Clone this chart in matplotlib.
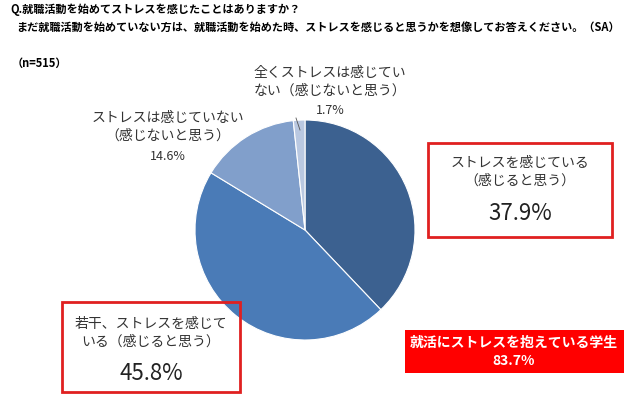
import matplotlib.pyplot as plt
from matplotlib.patches import Rectangle

plt.rcParams["font.family"] = ["Noto Sans CJK JP", "DejaVu Sans"]

labels = ["ストレスを感じている\n（感じると思う）", "若干、ストレスを感じて\nいる（感じると思う）",
          "ストレスは感じていない\n（感じないと思う）", "全くストレスは感じてい\nない（感じないと思う）"]
values = [37.9, 45.8, 14.6, 1.7]
colors = ["#3c6190", "#4a7bb7", "#819fcb", "#b9c8e1"]

W, H = 640, 404
fig = plt.figure(figsize=(6.4, 4.04), dpi=100)


def fx(x):
    return x / W


def fy(y):
    return 1 - y / H


ax = fig.add_axes([fx(305 - 110), fy(230 + 110), 220 / W, 220 / H])
ax.pie(values, colors=colors, startangle=90, counterclock=False,
       wedgeprops=dict(edgecolor="white", linewidth=0.8))
ax.set_aspect("auto")
ax.set_xlim(-1, 1)
ax.set_ylim(-1, 1)

fig.text(fx(10), fy(10), "Q.就職活動を始めてストレスを感じたことはありますか？", fontsize=8, weight="bold", va="center")
fig.text(fx(16), fy(27), "まだ就職活動を始めていない方は、就職活動を始めた時、ストレスを感じると思うかを想像してお答えください。（SA）",
         fontsize=8, weight="bold", va="center")
fig.text(fx(12), fy(63), "（n=515）", fontsize=8, weight="bold", va="center")

# boxes
fig.add_artist(Rectangle((fx(428), fy(237)), 184 / W, 94 / H, transform=fig.transFigure,
                         fill=False, edgecolor="#e02020", linewidth=2))
fig.add_artist(Rectangle((fx(62), fy(392)), 178 / W, 90 / H, transform=fig.transFigure,
                         fill=False, edgecolor="#e02020", linewidth=2))
fig.add_artist(Rectangle((fx(405), fy(373)), 219 / W, 43 / H, transform=fig.transFigure,
                         facecolor="#ff0000", edgecolor="none"))

fig.text(fx(520), fy(172), labels[0], fontsize=10, ha="center", va="center", color="#333333", linespacing=1.3)
fig.text(fx(520), fy(213), f"{values[0]}%", fontsize=16, ha="center", va="center", color="#222222")
fig.text(fx(151), fy(333), labels[1], fontsize=10, ha="center", va="center", color="#333333", linespacing=1.3)
fig.text(fx(151), fy(374), f"{values[1]}%", fontsize=16, ha="center", va="center", color="#222222")
fig.text(fx(168), fy(127), labels[2], fontsize=10, ha="center", va="center", color="#333333", linespacing=1.3)
fig.text(fx(168), fy(156), f"{values[2]}%", fontsize=9, ha="center", va="center", color="#333333")
fig.text(fx(330), fy(82), labels[3], fontsize=10, ha="center", va="center", color="#333333", linespacing=1.3)
fig.text(fx(330), fy(111), f"{values[3]}%", fontsize=9, ha="center", va="center", color="#333333")
fig.text(fx(514), fy(343), "就活にストレスを抱えている学生", fontsize=10, weight="bold", ha="center", va="center", color="white")
fig.text(fx(514), fy(361), "83.7%", fontsize=10, weight="bold", ha="center", va="center", color="white")

fig.add_artist(plt.Line2D([fx(296), fx(300)], [fy(118), fy(130)], color="#555555", linewidth=0.6))

fig.savefig("out.png", dpi=100)
